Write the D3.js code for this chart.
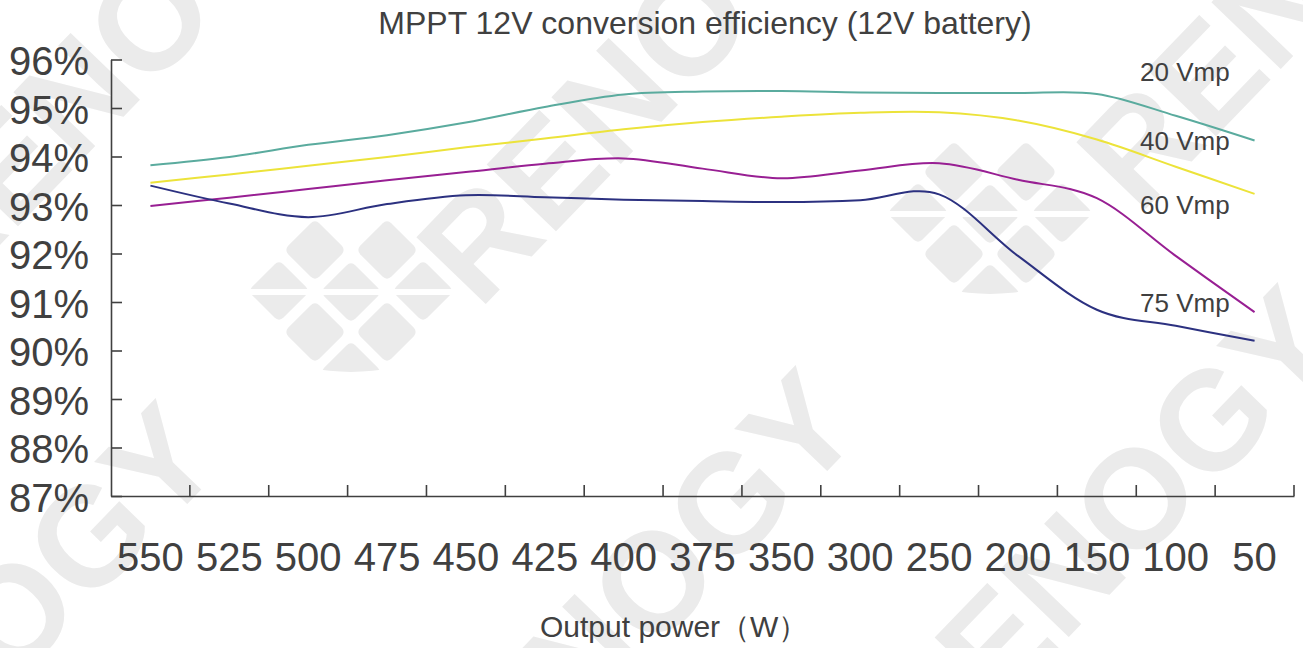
<!DOCTYPE html>
<html>
<head>
<meta charset="utf-8">
<script src="https://cdn.jsdelivr.net/npm/d3@7/dist/d3.min.js"></script>
<style>
  html, body { margin: 0; padding: 0; background: #fff; }
  svg { display: block; }
  text { font-family: "Liberation Sans", Arial, sans-serif; fill: #404040; }
</style>
</head>
<body>
<svg id="chart" width="1303" height="648"></svg>
<script>
// Output power categories (W), left to right
const powers = ["550", "525", "500", "475", "450", "425", "400", "375", "350", "300", "250", "200", "150", "100", "50"];

// Conversion efficiency (%) for each panel voltage
const vmp20 = [93.82, 93.99, 94.24, 94.44, 94.70, 95.02, 95.28, 95.34, 95.35, 95.32, 95.31, 95.31, 95.29, 94.84, 94.33];
const vmp40 = [93.46, 93.63, 93.81, 93.99, 94.19, 94.37, 94.56, 94.71, 94.82, 94.90, 94.91, 94.74, 94.35, 93.79, 93.23];
const vmp60 = [92.98, 93.15, 93.33, 93.51, 93.68, 93.85, 93.96, 93.75, 93.55, 93.71, 93.86, 93.52, 93.14, 91.95, 90.79];
const vmp75 = [93.40, 93.03, 92.75, 93.02, 93.20, 93.16, 93.11, 93.08, 93.06, 93.10, 93.22, 91.95, 90.84, 90.51, 90.20];

const seriesNames = ["20 Vmp", "40 Vmp", "60 Vmp", "75 Vmp"];
const seriesValues = [vmp20, vmp40, vmp60, vmp75];
const seriesColors = ["#5aab9e", "#ece33a", "#981f93", "#2c3180"];

const yTicks = [87, 88, 89, 90, 91, 92, 93, 94, 95, 96];

const svg = d3.select("#chart");
const ink = "#404040";

// ---- faint brand watermark behind the chart ----
const defs = svg.append("defs");
defs.append("clipPath").attr("id", "logo-clip")
  .append("path")
  .attr("d", "M-110,-72 H110 V20 A110,60 0 0 1 -110,20 Z");

const wm = svg.append("g").attr("fill", "#ebebeb");
const angle = -46;

function wordmark(px, py) {
  wm.append("text")
    .attr("transform", `translate(${px},${py}) rotate(${angle})`)
    .attr("x", -50).attr("y", 50)
    .style("fill", "#ebebeb")
    .style("font-weight", "bold")
    .style("font-size", "140px")
    .text("RENOGY");
}

function logo(px, py) {
  const g = wm.append("g").attr("transform", `translate(${px},${py})`)
    .append("g").attr("clip-path", "url(#logo-clip)");
  const cells = [[0, 0], [-36, -42], [36, -42], [-36, 40], [36, 40], [-72, -1], [72, -1], [0, 80]];
  cells.forEach(([dx, dy]) => {
    g.append("rect")
      .attr("x", -22).attr("y", -22).attr("width", 44).attr("height", 44)
      .attr("rx", 6)
      .attr("transform", `translate(${dx},${dy}) rotate(45)`);
  });
  g.append("rect").attr("x", -110).attr("y", -3).attr("width", 220).attr("height", 6).attr("fill", "#fff");
}

logo(351, 292);
wordmark(478, 240);
logo(990, 214);
wordmark(1138, 145);
wordmark(-60, 235);
wordmark(-196, 829);
wordmark(444, 796);
wordmark(926, 713);

// ---- scales ----
const plotLeft = 111, plotRight = 1294, plotTop = 59.5, plotBottom = 496;
const x = d3.scaleBand().domain(powers).range([plotLeft, plotRight]).padding(0);
const y = d3.scaleLinear().domain([87, 96]).range([plotBottom, plotTop]);
const bw = x.bandwidth();
const xMid = p => x(p) + bw / 2;

// ---- title ----
svg.append("text")
  .attr("x", 705).attr("y", 34)
  .attr("text-anchor", "middle")
  .style("font-size", "32px")
  .text("MPPT 12V conversion efficiency (12V battery)");

// ---- y axis ----
const yAxis = svg.append("g")
  .attr("transform", `translate(${plotLeft},0)`)
  .call(d3.axisLeft(y).tickValues(yTicks).tickSizeInner(-11).tickSizeOuter(0)
    .tickPadding(22).tickFormat(d => d + "%"));
yAxis.selectAll("path, line").attr("stroke", ink).attr("stroke-width", 1.6);
yAxis.selectAll("text").attr("dy", "0.38em").style("font-size", "40px").style("fill", ink);

// ---- x axis ----
const xAxis = svg.append("g")
  .attr("transform", `translate(0,${plotBottom})`)
  .call(d3.axisBottom(x).tickSizeInner(0).tickSizeOuter(0).tickPadding(47));
xAxis.select("path.domain").attr("stroke", ink).attr("stroke-width", 1.6);
xAxis.selectAll(".tick line").remove();
xAxis.selectAll("text").style("font-size", "40px").style("fill", ink);
// tick marks sit on the category boundaries
xAxis.selectAll("line.boundary")
  .data(powers)
  .join("line")
  .attr("class", "boundary")
  .attr("x1", p => x(p) + bw).attr("x2", p => x(p) + bw)
  .attr("y1", 0).attr("y2", -11)
  .attr("stroke", ink).attr("stroke-width", 1.6);

svg.append("text")
  .attr("x", 540).attr("y", 637)
  .style("font-size", "30px")
  .text("Output power（W）");

// ---- series lines ----
const line = d3.line()
  .x((d, i) => xMid(powers[i]))
  .y(d => y(d))
  .curve(d3.curveCardinal.tension(0));

svg.append("g")
  .selectAll("path")
  .data(seriesValues)
  .join("path")
  .attr("d", d => line(d))
  .attr("fill", "none")
  .attr("stroke", (d, i) => seriesColors[i])
  .attr("stroke-width", 2);

// ---- series labels ----
const labelBaselines = [81, 150, 214, 312];
svg.append("g")
  .selectAll("text")
  .data(seriesNames)
  .join("text")
  .attr("x", 1140)
  .attr("y", (d, i) => labelBaselines[i])
  .style("font-size", "26px")
  .text(d => d);
</script>
</body>
</html>
